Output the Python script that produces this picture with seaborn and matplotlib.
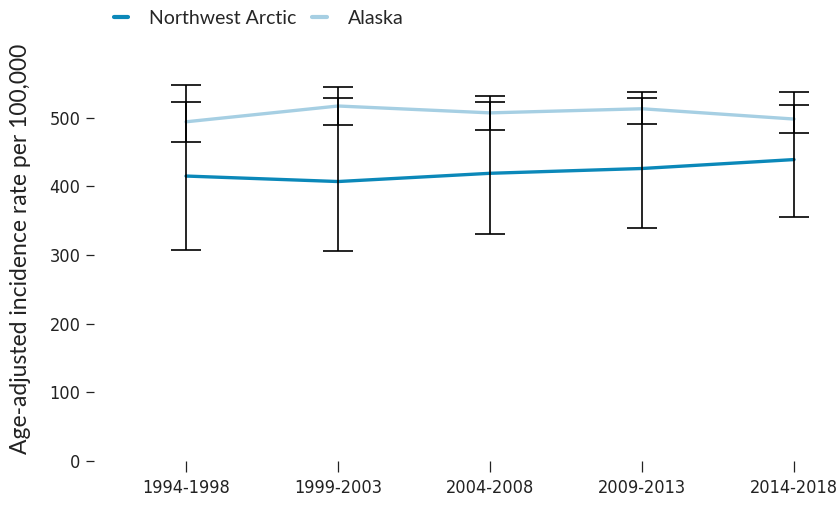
import numpy as np
import pandas as pd
import matplotlib
matplotlib.use("Agg")
import matplotlib.pyplot as plt
import seaborn as sns

# data
periods = ["1994-1998", "1999-2003", "2004-2008", "2009-2013", "2014-2018"]
nwa_rate = [415, 407, 419, 426, 439]
nwa_low = [308, 306, 330, 340, 355]
nwa_high = [548, 529, 523, 528, 538]
ak_rate = [494, 517, 507, 513, 498]
ak_low = [465, 490, 482, 491, 477]
ak_high = [523, 545, 532, 537, 519]

series = ["Northwest Arctic", "Alaska"]
colors = {"Northwest Arctic": "#0b88b9", "Alaska": "#a6cfe3"}

df = pd.concat([
    pd.DataFrame({"period": periods, "rate": nwa_rate, "low": nwa_low,
                  "high": nwa_high, "region": series[0]}),
    pd.DataFrame({"period": periods, "rate": ak_rate, "low": ak_low,
                  "high": ak_high, "region": series[1]}),
], ignore_index=True)
df["x"] = df["period"].map({p: i for i, p in enumerate(periods)})

sns.set_style("white")
plt.rcParams["font.family"] = ["Lato", "DejaVu Sans"]

fig = plt.figure(figsize=(8.38, 5.05), dpi=100)
ax = fig.add_axes([100 / 838, 44 / 505, 715 / 838, 401 / 505])

sns.lineplot(data=df, x="x", y="rate", hue="region", hue_order=series,
             palette=colors, linewidth=2.4, ax=ax, zorder=2)

for name in series:
    d = df[df["region"] == name]
    ax.errorbar(d["x"], d["rate"],
                yerr=[d["rate"] - d["low"], d["high"] - d["rate"]],
                fmt="none", ecolor="black", elinewidth=1.2, capsize=11,
                capthick=1.2, zorder=3)

ax.set_xlim(-0.566, 4.138)
ax.set_ylim(0, 584)
ax.set_xticks(range(len(periods)))
ax.set_xticklabels(periods)
ax.set_yticks([0, 100, 200, 300, 400, 500])
ax.set_xlabel("")
ax.set_ylabel("Age-adjusted incidence rate per 100,000", fontsize=16.5,
              color="#222222")
ax.yaxis.set_label_coords(-0.096, 0.53)

for s in ax.spines.values():
    s.set_visible(False)
ax.spines["left"].set_position(("outward", 4))
ax.tick_params(axis="both", which="both", direction="out", color="#222222",
               labelcolor="#222222", labelsize=13, bottom=True, left=True)
ax.tick_params(axis="x", length=8, width=0.9, pad=5)
ax.tick_params(axis="y", length=6, width=0.9, pad=4)
for lab in ax.get_xticklabels() + ax.get_yticklabels():
    lab.set_family("DejaVu Sans")
    lab.set_stretch("condensed")

handles, labels = ax.get_legend_handles_labels()
ax.get_legend().remove()
for h in handles:
    h.set_linewidth(3)
fig.legend(handles, labels, loc="upper left", bbox_to_anchor=(96 / 838, 1.015),
           ncol=2, frameon=False, fontsize=14, handlelength=0.75,
           handletextpad=1.1, columnspacing=0.8)

fig.savefig("out.png", dpi=100)
